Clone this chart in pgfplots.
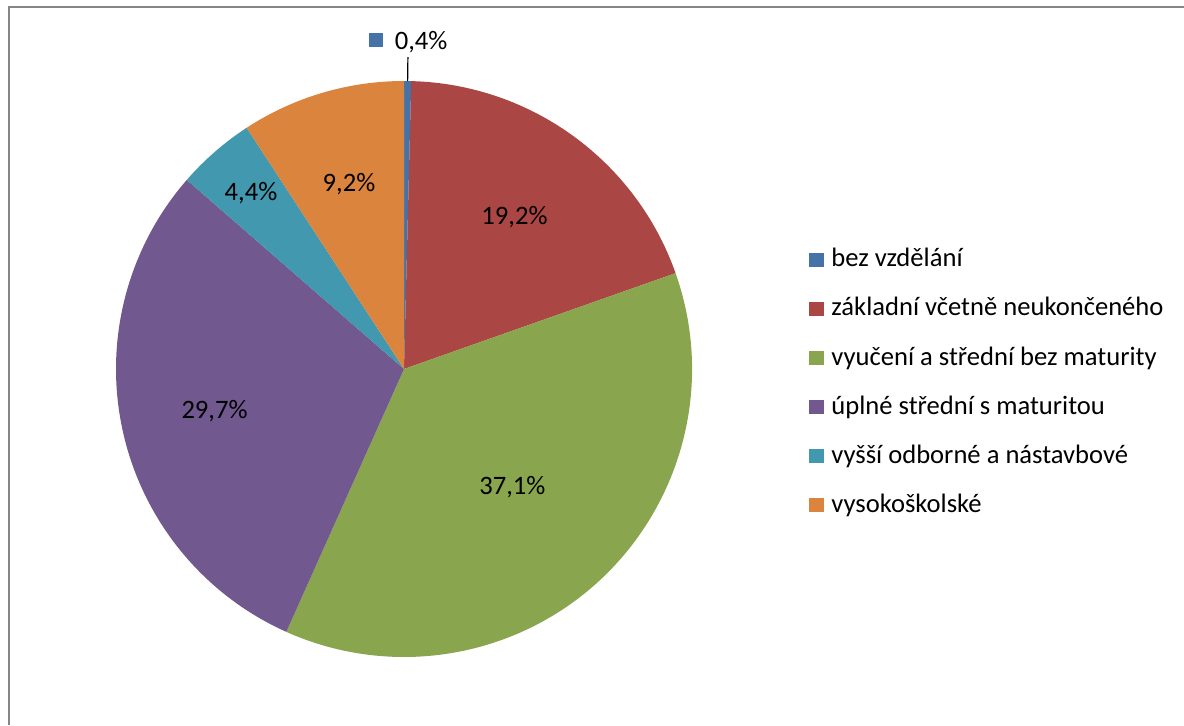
\documentclass[border=0pt]{standalone}
\usepackage{pgfplots}
\usepackage{pgfplotstable}
\pgfplotsset{compat=1.18}
\usepackage{fontspec}
\setmainfont{Carlito}
\definecolor{c0}{HTML}{4572A7}
\definecolor{c1}{HTML}{AA4643}
\definecolor{c2}{HTML}{89A54E}
\definecolor{c3}{HTML}{71588F}
\definecolor{c4}{HTML}{4198AF}
\definecolor{c5}{HTML}{DB843D}
\definecolor{framegray}{HTML}{868686}
\pgfkeys{/pgf/number format/assume math mode=true}
\pgfplotstableread[col sep=comma]{
idx,value,labr,name
0,0.4,327,bez vzdělání
1,19.2,188,základní včetně neukončeného
2,37.1,160,vyučení a střední bez maturity
3,29.7,194,úplné střední s maturitou
4,4.4,233,vyšší odborné a nástavbové
5,9.2,193,vysokoškolské
}\piedata
\def\cumsum{0}%
\pgfplotsforeachungrouped \i in {0,...,5}{%
  \pgfplotstablegetelem{\i}{value}\of\piedata
  \let\v\pgfplotsretval
  \pgfmathsetmacro\sa{90-3.6*\cumsum}%
  \pgfmathsetmacro\cumsum{\cumsum+\v}%
  \pgfmathsetmacro\ea{90-3.6*\cumsum}%
  \pgfmathsetmacro\ma{(\sa+\ea)/2}%
  \expandafter\xdef\csname sa\i\endcsname{\sa}%
  \expandafter\xdef\csname ea\i\endcsname{\ea}%
  \expandafter\xdef\csname ma\i\endcsname{\ma}%
  \expandafter\xdef\csname v\i\endcsname{\v}%
  \pgfplotstablegetelem{\i}{labr}\of\piedata
  \pgfmathsetmacro\lr{0.5*\pgfplotsretval}%
  \expandafter\xdef\csname lr\i\endcsname{\lr}%
  \pgfplotstablegetelem{\i}{name}\of\piedata
  \expandafter\xdef\csname name\i\endcsname{\pgfplotsretval}%
}%
\expandafter\let\expandafter\maZero\csname ma0\endcsname
\expandafter\let\expandafter\lrZero\csname lr0\endcsname
\expandafter\let\expandafter\vZero\csname v0\endcsname
\begin{document}
\begin{tikzpicture}[font=\fontsize{13.3pt}{16pt}\selectfont]
\begin{axis}[
  scale only axis, width=592pt, height=362.5pt,
  xmin=0, xmax=1184, ymin=0, ymax=725,
  hide axis, clip=false,
  at={(0,0)}, anchor=south west,
]
\coordinate (bl) at (axis cs:0,0);
\coordinate (tr) at (axis cs:1184,725);
% frame
\draw[framegray, line width=1pt] (axis cs:9,0) -- (axis cs:9,717.5) -- (axis cs:1184,717.5);
% slices
\pgfplotsinvokeforeach{0,...,5}{
  \fill[c#1] (axis cs:404,356) -- ++(\csname sa#1\endcsname:144pt)
     arc[start angle=\csname sa#1\endcsname, end angle=\csname ea#1\endcsname, radius=144pt] -- cycle;
}
% inside labels
\pgfplotsinvokeforeach{1,...,5}{
  \path (axis cs:404,356) ++(\csname ma#1\endcsname:\csname lr#1\endcsname pt)
     node[inner sep=0pt] {\pgfmathprintnumber[fixed,fixed zerofill,precision=1,use comma]{\csname v#1\endcsname}\%};
}
% outside label for the small slice
\draw[black, line width=0.6pt] (axis cs:404,356) ++(\maZero:144pt) -- ++(\maZero:12pt);
\path (axis cs:404,356) ++(\maZero:\lrZero pt)
   node[inner sep=0pt] {{\color{c0}\rule[1.2pt]{7pt}{7pt}}\hspace{6pt}\pgfmathprintnumber[fixed,fixed zerofill,precision=1,use comma]{\vZero}\%};
% legend
\pgfplotsinvokeforeach{0,...,5}{
  \fill[c#1] (axis cs:809,{725-252.7-49.15*#1}) rectangle (axis cs:824,{725-266.7-49.15*#1});
  \node[anchor=base west, inner sep=0pt] at (axis cs:831,{725-266.7-49.15*#1}) {\csname name#1\endcsname};
}
\end{axis}
\pgfresetboundingbox
\path[use as bounding box] (bl) rectangle (tr);
\end{tikzpicture}
\end{document}
